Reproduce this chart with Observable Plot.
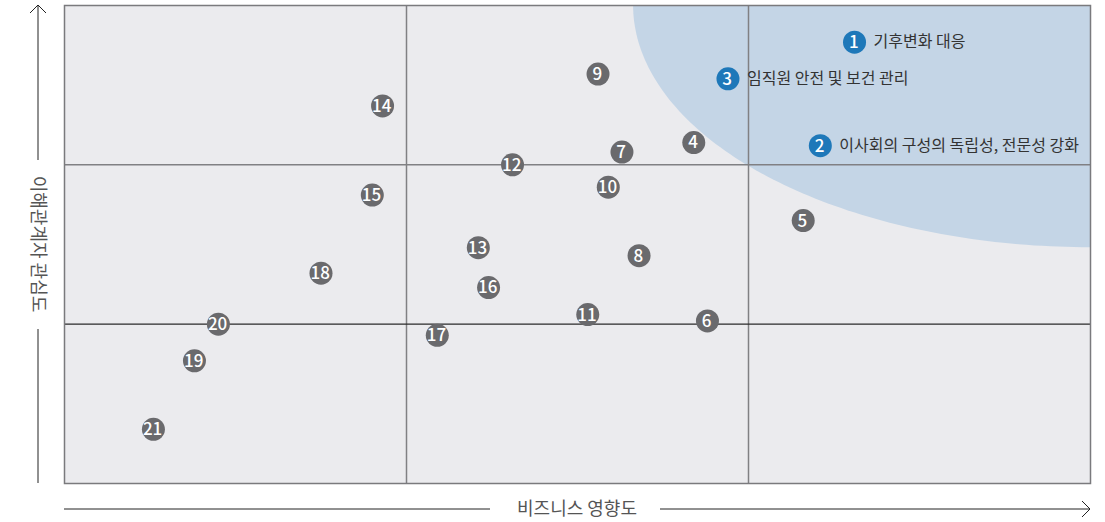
<!DOCTYPE html>
<html>
<head>
<meta charset="utf-8">
<script src="https://cdn.jsdelivr.net/npm/d3@7"></script>
<script src="https://cdn.jsdelivr.net/npm/@observablehq/plot@0.6"></script>
<style>
  html, body { margin: 0; padding: 0; background: #fff; }
  #chart svg { display: block; }
</style>
</head>
<body>
<div id="chart"></div>
<script>
// Issue numbers
const ids = [1, 2, 3, 4, 5, 6, 7, 8, 9, 10, 11, 12, 13, 14, 15, 16, 17, 18, 19, 20, 21];
// Business impact (x) and stakeholder interest (y), on a 0–3 scale
const impact   = [2.31, 2.21, 1.94, 1.84, 2.16, 1.88, 1.63, 1.68, 1.56, 1.59, 1.53, 1.31, 1.21, 0.93, 0.90, 1.24, 1.09, 0.75, 0.38, 0.45, 0.26];
const interest = [2.77, 2.12, 2.54, 2.14, 1.65, 1.02, 2.08, 1.43, 2.57, 1.86, 1.06, 2.00, 1.48, 2.37, 1.81, 1.23, 0.93, 1.32, 0.77, 1.00, 0.34];
// Labels for the material issues
const labels = {1: "기후변화 대응", 2: "이사회의 구성의 독립성, 전문성 강화", 3: "임직원 안전 및 보건 관리"};
// Material zone: ellipse centred on the top-right corner
const zoneCenter = [3, 3];
const zoneRadii = [1.336, 1.52];
// Axis titles
const xTitle = "비즈니스 영향도";
const yTitle = "이해관계자 관심도";

const points = ids.map((id, i) => ({id, x: impact[i], y: interest[i], material: id in labels, label: labels[id] || ""}));

const zone = d3.range(0, 91).map(deg => {
  const t = deg * Math.PI / 180;
  return {x: zoneCenter[0] - zoneRadii[0] * Math.cos(t), y: zoneCenter[1] - zoneRadii[1] * Math.sin(t)};
}).sort((a, b) => a.x - b.x);

const W = 1105, H = 522;
const mL = 64, mR = 15, mT = 5, mB = 39;
const font = "'Noto Sans CJK KR', 'Noto Sans', sans-serif";

const plot = Plot.plot({
  width: W,
  height: H,
  marginLeft: mL,
  marginRight: mR,
  marginTop: mT,
  marginBottom: mB,
  style: {fontFamily: font, background: "#fff"},
  x: {domain: [0, 3], axis: null},
  y: {domain: [0, 3], axis: null},
  marks: [
    Plot.frame({fill: "#EBEBEE", stroke: null}),
    Plot.areaY(zone, {x: "x", y1: "y", y2: zoneCenter[1], fill: "#C4D5E6", clip: "frame"}),
    Plot.ruleX([1, 2], {stroke: "#808083", strokeWidth: 1.5}),
    Plot.ruleY([2], {stroke: "#808083", strokeWidth: 1.5}),
    Plot.ruleY([1], {stroke: "#2a2a2a", strokeWidth: 1.2}),
    Plot.frame({stroke: "#7a7a7d", strokeWidth: 1.5}),
    Plot.dot(points, {x: "x", y: "y", r: 11.5, fill: d => d.material ? "#1E78B9" : "#6A6A6D", stroke: null}),
    Plot.text(points, {x: "x", y: "y", text: d => String(d.id), fill: "white", fontSize: 17, fontWeight: 500, letterSpacing: "-1.6px", dx: -0.8, dy: 0.5}),
    Plot.text(points.filter(d => d.material), {x: "x", y: "y", text: "label", textAnchor: "start", dx: 19, fill: "#333", fontSize: 16})
  ]
});

document.getElementById("chart").appendChild(plot);

// axis titles with arrows
const svg = d3.select(plot);
const g = svg.append("g").attr("font-family", font);
const stroke = "#222";
// x axis
const ay = 509;
const xMid = (mL + (W - mR)) / 2;
g.append("line").attr("x1", mL).attr("x2", xMid - 87).attr("y1", ay).attr("y2", ay).attr("stroke", stroke);
g.append("line").attr("x1", xMid + 83).attr("x2", W - mR).attr("y1", ay).attr("y2", ay).attr("stroke", stroke);
g.append("path").attr("d", `M${W - mR - 8},${ay - 8}L${W - mR},${ay}L${W - mR - 8},${ay + 8}`).attr("fill", "none").attr("stroke", stroke);
g.append("text").attr("x", xMid).attr("y", ay).attr("dy", "0.35em").attr("text-anchor", "middle")
  .attr("font-size", 18).attr("fill", "#555").text(xTitle);
// y axis
const ax = 38;
const yMid = (mT + (H - mB)) / 2;
g.append("line").attr("x1", ax).attr("x2", ax).attr("y1", mT).attr("y2", yMid - 84).attr("stroke", stroke);
g.append("line").attr("x1", ax).attr("x2", ax).attr("y1", yMid + 85).attr("y2", H - mB).attr("stroke", stroke);
g.append("path").attr("d", `M${ax - 8},${mT + 8}L${ax},${mT}L${ax + 8},${mT + 8}`).attr("fill", "none").attr("stroke", stroke);
g.append("text").attr("transform", `translate(${ax},${yMid}) rotate(90)`).attr("dy", "0.35em").attr("text-anchor", "middle")
  .attr("font-size", 18).attr("fill", "#555").text(yTitle);
</script>
</body>
</html>
